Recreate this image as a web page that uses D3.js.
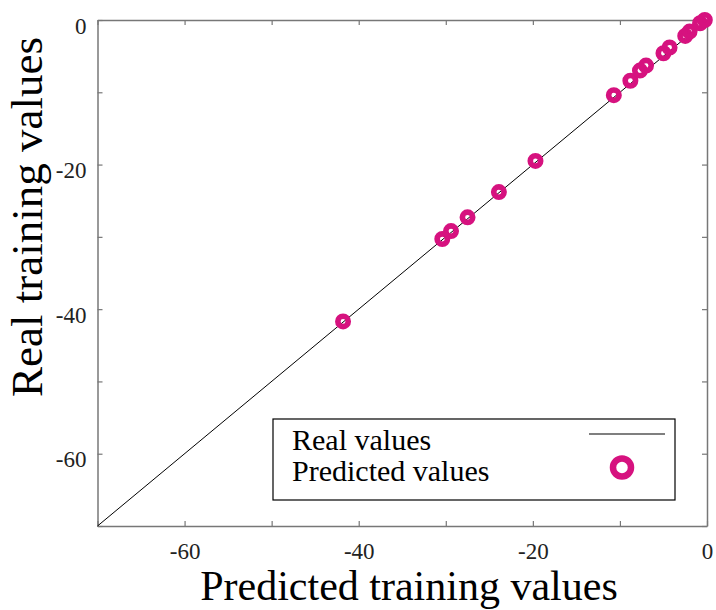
<!DOCTYPE html>
<html>
<head>
<meta charset="utf-8">
<script src="https://cdn.jsdelivr.net/npm/d3@7/dist/d3.min.js"></script>
<style>
  html, body { margin: 0; padding: 0; background: #fff; }
  svg { display: block; font-family: "Liberation Serif", "DejaVu Serif", serif; }
  svg text { font-family: "Liberation Serif", "DejaVu Serif", serif; }
</style>
</head>
<body>
<div id="chart"></div>
<script>
// predicted (x) vs real (y) training values
var predicted = [-41.8, -30.4, -29.4, -27.5, -23.9, -19.7, -10.7, -8.8, -7.7, -7.0, -5.0, -4.3, -2.5, -2.0, -0.8, -0.25];
var real      = [-41.7, -30.3, -29.2, -27.3, -23.8, -19.5, -10.4, -8.4, -7.0, -6.3, -4.6, -3.8, -2.2, -1.6, -0.45, 0];
var xDomain = [-70, 0], yDomain = [-70, 0];
var tickValues = [-70, -60, -50, -40, -30, -20, -10, 0];
var labelTicks = [-60, -40, -20, 0];
var legendLabels = ['Real values', 'Predicted values'];
var MAGENTA = '#d6127f';

(function () {
  'use strict';
  var W = 716, H = 610;
  var m = { left: 97.5, right: 9, top: 20, bottom: 84 };
  var axisCol = '#777';

  var svg = d3.select('#chart').append('svg').attr('width', W).attr('height', H);
  var x = d3.scaleLinear().domain(xDomain).range([m.left, W - m.right]);
  var y = d3.scaleLinear().domain(yDomain).range([H - m.bottom, m.top]);

  // inward ticks on every side, labels only on left/bottom
  function axis(gen, tx, ty, labelled) {
    var g = svg.append('g').attr('transform', 'translate(' + tx + ',' + ty + ')')
      .call(gen.tickValues(tickValues).tickSizeOuter(0)
        .tickFormat(function (d) { return labelled && labelTicks.indexOf(d) >= 0 ? String(d) : ''; }));
    g.attr('font-family', 'Liberation Serif').attr('font-size', 23);
    g.select('.domain').attr('stroke', axisCol).attr('stroke-width', 1.5);
    g.selectAll('.tick line').attr('stroke', axisCol).attr('stroke-width', 1.2);
    g.selectAll('.tick text').attr('fill', '#222')
      .attr('font-family', 'Liberation Serif').style('font-size', '23px');
    return g;
  }
  var bot = axis(d3.axisBottom(x).tickSize(-5), 0, H - m.bottom, true);
  bot.selectAll('.tick text').attr('y', 33).attr('dy', 0);
  axis(d3.axisTop(x).tickSize(-5), 0, m.top, false);
  var lft = axis(d3.axisLeft(y).tickSize(-5), m.left, 0, true);
  lft.selectAll('.tick text').attr('x', -11).attr('dy', 0).attr('y', 13);
  axis(d3.axisRight(y).tickSize(-5), W - m.right, 0, false);

  // ideal line
  svg.append('line')
    .attr('x1', x(xDomain[0])).attr('y1', y(yDomain[0]))
    .attr('x2', x(xDomain[1])).attr('y2', y(yDomain[1]))
    .attr('stroke', '#000').attr('stroke-width', 1);

  // predicted points as thick rings
  svg.append('g').selectAll('circle').data(predicted).join('circle')
    .attr('cx', function (d) { return x(d); })
    .attr('cy', function (d, i) { return y(real[i]); })
    .attr('r', 5.2).attr('fill', 'none')
    .attr('stroke', MAGENTA).attr('stroke-width', 5.6);

  // axis titles
  svg.append('text').attr('x', 409).attr('y', 600).attr('text-anchor', 'middle')
    .style('font-size', '42px').text('Predicted training values');
  svg.append('text').attr('transform', 'translate(42,217) rotate(-90)').attr('text-anchor', 'middle')
    .style('font-size', '45px').text('Real training values');

  // legend
  var lg = svg.append('g');
  lg.append('rect').attr('x', 273).attr('y', 419).attr('width', 402).attr('height', 81)
    .attr('fill', '#fff').attr('stroke', '#000').attr('stroke-width', 1.2);
  lg.selectAll('text').data(legendLabels).join('text')
    .attr('x', 292).attr('y', function (d, i) { return 450 + i * 31; })
    .style('font-size', '30px').text(function (d) { return d; });
  lg.append('line').attr('x1', 589).attr('x2', 665).attr('y1', 434).attr('y2', 434)
    .attr('stroke', '#000').attr('stroke-width', 1.2);
  lg.append('circle').attr('cx', 622).attr('cy', 467.5).attr('r', 9)
    .attr('fill', 'none').attr('stroke', MAGENTA).attr('stroke-width', 6.5);
})();
</script>
</body>
</html>
